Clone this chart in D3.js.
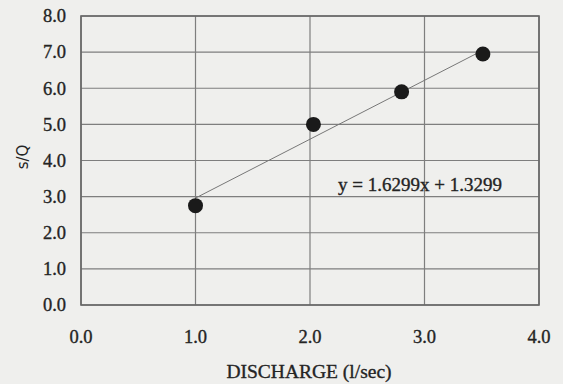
<!DOCTYPE html>
<html>
<head>
<meta charset="utf-8">
<script src="https://cdn.jsdelivr.net/npm/d3@7"></script>
<style>
  body { margin: 0; background: #efefed; }
  svg { display: block; }
</style>
</head>
<body>
<div id="chart"></div>
<script>
// discharge (l/sec) and s/Q readings
var discharge = [1.0, 2.03, 2.8, 3.51];
var sOverQ = [2.75, 5.0, 5.9, 6.95];
var xTicks = [0, 1, 2, 3, 4];
var yTicks = [0, 1, 2, 3, 4, 5, 6, 7, 8];
var slope = 1.6299;
var intercept = 1.3299;

var width = 563;
var height = 384;
var margin = {top: 16, right: 24, bottom: 79, left: 81};

var svg = d3.select('#chart')
    .append('svg')
    .attr('width', width)
    .attr('height', height);

var x = d3.scaleLinear()
    .domain([0, 4])
    .range([margin.left, width - margin.right]);

var y = d3.scaleLinear()
    .domain([0, 8])
    .range([height - margin.bottom, margin.top]);

var textColor = '#242424';
var serif = '"Liberation Serif", serif';

// grid
svg.append('g')
    .selectAll('line')
    .data(yTicks)
    .enter()
    .append('line')
    .attr('x1', x(0))
    .attr('x2', x(4))
    .attr('y1', function(d) { return y(d); })
    .attr('y2', function(d) { return y(d); })
    .attr('stroke', '#7e7e7e')
    .attr('stroke-width', 1.2);

svg.append('g')
    .selectAll('line')
    .data(xTicks)
    .enter()
    .append('line')
    .attr('x1', function(d) { return x(d); })
    .attr('x2', function(d) { return x(d); })
    .attr('y1', y(0))
    .attr('y2', y(8))
    .attr('stroke', '#7e7e7e')
    .attr('stroke-width', 1.2);

// plot frame
svg.append('rect')
    .attr('x', x(0))
    .attr('y', y(8))
    .attr('width', x(4) - x(0))
    .attr('height', y(0) - y(8))
    .attr('fill', 'none')
    .attr('stroke', '#666')
    .attr('stroke-width', 1.6);

// tick labels
svg.append('g')
    .selectAll('text')
    .data(yTicks)
    .enter()
    .append('text')
    .attr('x', 66)
    .attr('y', function(d) { return y(d); })
    .attr('dy', '0.34em')
    .attr('text-anchor', 'end')
    .style('font-family', serif)
    .style('font-size', '18.5px')
    .attr('fill', textColor)
    .attr('stroke', textColor)
    .attr('stroke-width', 0.35)
    .text(function(d) { return d3.format('.1f')(d); });

svg.append('g')
    .selectAll('text')
    .data(xTicks)
    .enter()
    .append('text')
    .attr('x', function(d) { return x(d); })
    .attr('y', 343)
    .attr('text-anchor', 'middle')
    .style('font-family', serif)
    .style('font-size', '18.5px')
    .attr('fill', textColor)
    .attr('stroke', textColor)
    .attr('stroke-width', 0.35)
    .text(function(d) { return d3.format('.1f')(d); });

// axis titles
svg.append('text')
    .attr('x', 309)
    .attr('y', 378)
    .attr('text-anchor', 'middle')
    .style('font-family', serif)
    .style('font-size', '19.5px')
    .attr('fill', textColor)
    .attr('stroke', textColor)
    .attr('stroke-width', 0.35)
    .text('DISCHARGE (l/sec)');

svg.append('text')
    .attr('transform', 'translate(28,157)rotate(-90)')
    .attr('text-anchor', 'middle')
    .style('font-family', '"DejaVu Sans", sans-serif')
    .style('font-size', '15px')
    .attr('fill', textColor)
    .text('s/Q');

// trendline across the data range
var xMin = d3.min(discharge);
var xMax = d3.max(discharge);
svg.append('line')
    .attr('x1', x(xMin))
    .attr('y1', y(slope * xMin + intercept))
    .attr('x2', x(xMax))
    .attr('y2', y(slope * xMax + intercept))
    .attr('stroke', '#777')
    .attr('stroke-width', 1);

// points
svg.append('g')
    .selectAll('circle')
    .data(discharge)
    .enter()
    .append('circle')
    .attr('cx', function(d) { return x(d); })
    .attr('cy', function(d, i) { return y(sOverQ[i]); })
    .attr('r', 7.5)
    .attr('fill', '#1a1a1a');

// equation label
svg.append('text')
    .attr('x', 420)
    .attr('y', 191)
    .attr('text-anchor', 'middle')
    .style('font-family', serif)
    .style('font-size', '19px')
    .attr('fill', textColor)
    .attr('stroke', textColor)
    .attr('stroke-width', 0.35)
    .text('y = ' + slope + 'x + ' + intercept);
</script>
</body>
</html>
